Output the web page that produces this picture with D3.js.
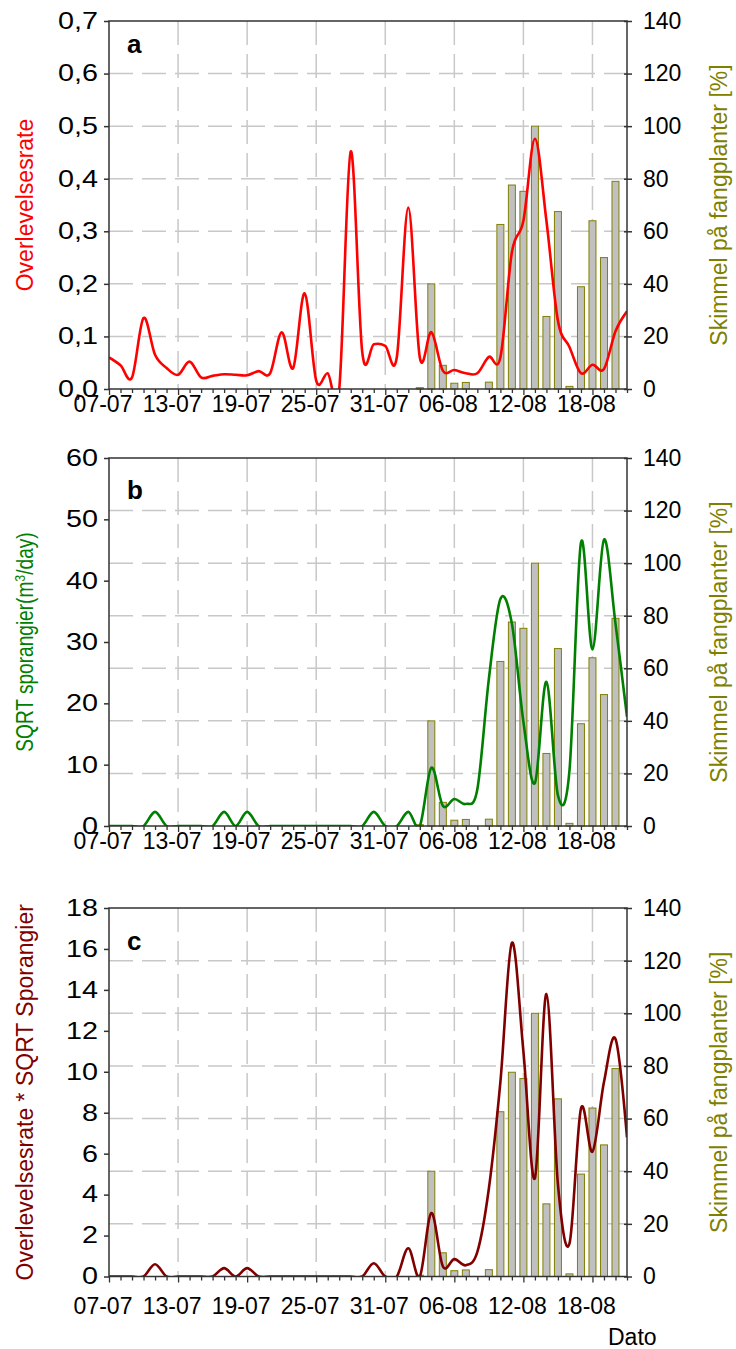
<!DOCTYPE html>
<html>
<head>
<meta charset="utf-8">
<script src="https://cdn.jsdelivr.net/npm/d3@7/dist/d3.min.js"></script>
<style>
  body { margin: 0; background: #fff; }
  svg { display: block; }
  text { font-family: "Liberation Sans", Arial, sans-serif; }
</style>
</head>
<body>
<svg id="chart" width="736" height="1349"></svg>
<script>
// Daily observations, 7 July – 21 August
const dates = [
  "07-07","08-07","09-07","10-07","11-07","12-07","13-07","14-07","15-07","16-07",
  "17-07","18-07","19-07","20-07","21-07","22-07","23-07","24-07","25-07","26-07",
  "27-07","28-07","29-07","30-07","31-07","01-08","02-08","03-08","04-08","05-08",
  "06-08","07-08","08-08","09-08","10-08","11-08","12-08","13-08","14-08","15-08",
  "16-08","17-08","18-08","19-08","20-08","21-08"
];

// Survival rate (panel a)
const overlevelse = [
  0.06, 0.045, 0.022, 0.135, 0.065, 0.04, 0.027, 0.052, 0.022, 0.025,
  0.028, 0.027, 0.026, 0.034, 0.03, 0.108, 0.04, 0.182, 0.016, 0.03,
  0.0, 0.452, 0.07, 0.085, 0.082, 0.06, 0.345, 0.06, 0.108, 0.035,
  0.036, 0.03, 0.03, 0.061, 0.06, 0.26, 0.32, 0.476, 0.32, 0.13,
  0.08, 0.03, 0.046, 0.038, 0.11, 0.148
];

// Square root of sporangia count (panel b)
const sporangier = [
  0, 0, 0, 0, 2.3, 0, 0, 0, 0, 0,
  2.3, 0, 2.3, 0, 0, 0, 0, 0, 0, 0,
  0, 0, 0, 2.3, 0, 0, 2.3, 0, 9.5, 3.3,
  4.4, 3.6, 6, 24, 37, 33, 17, 7, 23.5, 5,
  9, 46.2, 28.8, 46.7, 33, 17.8
];

// Survival rate * SQRT sporangia (panel c)
const produkt = [
  0, 0, 0, 0, 0.6, 0, 0, 0, 0, 0,
  0.41, 0, 0.41, 0, 0, 0, 0, 0, 0, 0,
  0, 0, 0, 0.65, 0, 0, 1.38, 0, 3.1, 0.5,
  0.85, 0.55, 1.2, 4.3, 9.5, 16.3, 11, 4.8, 13.8, 4.5,
  1.6, 8.2, 6.1, 9.5, 11.6, 6.8
];

// Blight on trap plants [%] (bars, right axis)
const skimmel = [
  null, null, null, null, null, null, null, null, null, null,
  null, null, null, null, null, null, null, null, null, null,
  null, null, null, null, null, null, null, 0.5, 40, 9,
  2.2, 2.5, null, 2.6, 62.6, 77.6, 75.2, 100, 27.6, 67.5,
  1, 38.9, 64, 50, 79, null
];

const dateTicks = ["07-07","13-07","19-07","25-07","31-07","06-08","12-08","18-08"];
const rightTicks = [0, 20, 40, 60, 80, 100, 120, 140];
const ticksA = [0, 0.1, 0.2, 0.3, 0.4, 0.5, 0.6, 0.7];
const ticksB = [0, 10, 20, 30, 40, 50, 60];
const ticksC = [0, 2, 4, 6, 8, 10, 12, 14, 16, 18];

const svg = d3.select("#chart");
const left = 109, right = 627;
const x = d3.scalePoint().domain(dates).range([left, right]);

const commaFmt = d3.formatLocale({decimal: ",", thousands: ".", grouping: [3], currency: ["", ""]}).format(".1f");

const panels = [
  { id: "a", values: overlevelse, color: "#ff0000", ticks: ticksA, fmt: commaFmt,
    top: 21, bottom: 389, letterY: 53, labelGap: 23, titleScale: 1,
    title: [{t: "Overlevelsesrate"}] },
  { id: "b", values: sporangier, color: "#008000", ticks: ticksB, fmt: d3.format("d"),
    top: 458, bottom: 826, letterY: 499, labelGap: 23, titleScale: 0.83,
    title: [{t: "SQRT sporangier(m"}, {t: "3", sup: true}, {t: "/day)"}] },
  { id: "c", values: produkt, color: "#800000", ticks: ticksC, fmt: d3.format("d"),
    top: 908, bottom: 1276.5, letterY: 950, labelGap: 37, titleScale: 1,
    title: [{t: "Overlevelsesrate * SQRT Sporangier"}] }
];

const gridColor = "#c8c8c8";
const axisColor = "#333";

panels.forEach(p => {
  const g = svg.append("g");
  const yL = d3.scaleLinear().domain([0, d3.max(p.ticks)]).range([p.bottom, p.top]);
  const yR = d3.scaleLinear().domain([0, 140]).range([p.bottom, p.top]);
  const mid = (p.top + p.bottom) / 2;

  // horizontal gridlines follow the right-hand axis
  g.selectAll(".hgrid").data(rightTicks.slice(1, -1)).join("line")
    .attr("x1", left).attr("x2", right)
    .attr("y1", d => yR(d)).attr("y2", d => yR(d))
    .attr("stroke", gridColor).attr("stroke-width", 1.5)
    .attr("stroke-dasharray", "24,9");

  // vertical gridlines at the labelled dates
  g.selectAll(".vgrid").data(dateTicks.slice(1)).join("line")
    .attr("x1", d => x(d)).attr("x2", d => x(d))
    .attr("y1", p.top).attr("y2", p.bottom)
    .attr("stroke", gridColor).attr("stroke-width", 1.5)
    .attr("stroke-dasharray", "24,9");

  // bars
  const barData = dates.map((d, i) => ({d, v: skimmel[i]})).filter(o => o.v != null);
  g.selectAll(".bar").data(barData).join("rect")
    .attr("x", o => x(o.d) - 3.5).attr("width", 7)
    .attr("y", o => yR(o.v)).attr("height", o => yR(0) - yR(o.v))
    .attr("fill", "#c0c0c0").attr("stroke", "#808000").attr("stroke-width", 1);

  // smoothed line, clipped to the plot area
  const clipId = "clip-" + p.id;
  svg.append("clipPath").attr("id", clipId).append("rect")
    .attr("x", left).attr("y", p.top).attr("width", right - left).attr("height", p.bottom - p.top);
  const line = d3.line()
    .x((v, i) => x(dates[i]))
    .y(v => yL(v))
    .curve(d3.curveCardinal.tension(0));
  g.append("path").datum(p.values)
    .attr("clip-path", `url(#${clipId})`)
    .attr("d", line)
    .attr("fill", "none").attr("stroke", p.color).attr("stroke-width", 2.6)
    .attr("stroke-linejoin", "round");

  // plot frame
  g.append("rect").attr("x", left).attr("y", p.top)
    .attr("width", right - left).attr("height", p.bottom - p.top)
    .attr("fill", "none").attr("stroke", axisColor).attr("stroke-width", 1.5);

  // left axis (labels drawn slightly wide)
  const leftAxis = d3.axisLeft(yL).tickValues(p.ticks).tickFormat(p.fmt).tickSize(5).tickPadding(6);
  const la = g.append("g").attr("transform", `translate(${left},0)`).call(leftAxis);
  la.select(".domain").remove();
  la.selectAll(".tick line").attr("stroke", axisColor).attr("stroke-width", 1.5);
  la.selectAll(".tick text").attr("font-size", 23).attr("fill", "#000")
    .attr("font-family", "Liberation Sans, Arial, sans-serif")
    .attr("x", 0).attr("transform", "translate(-11,0) scale(1.25,1)");

  // right axis
  const rightAxis = d3.axisRight(yR).tickValues(rightTicks).tickSize(5).tickPadding(11);
  const ra = g.append("g").attr("transform", `translate(${right},0)`).call(rightAxis);
  ra.select(".domain").remove();
  ra.selectAll(".tick line").attr("x1", -3).attr("stroke", axisColor).attr("stroke-width", 1.5);
  ra.selectAll(".tick text").attr("font-size", 23).attr("fill", "#000")
    .attr("font-family", "Liberation Sans, Arial, sans-serif");

  // bottom axis: a tick per day, longer ticks at the labelled dates
  const bottomAxis = d3.axisBottom(x).tickValues(dates)
    .tickSize(4).tickFormat(d => dateTicks.includes(d) ? d : "");
  const ba = g.append("g").attr("transform", `translate(0,${p.bottom})`).call(bottomAxis);
  ba.select(".domain").remove();
  ba.selectAll(".tick line").attr("stroke", axisColor).attr("stroke-width", 1.3)
    .attr("y2", d => dateTicks.includes(d) ? 6 : 4);
  ba.selectAll(".tick text")
    .attr("font-size", 23).attr("fill", "#000")
    .attr("font-family", "Liberation Sans, Arial, sans-serif")
    .attr("x", -6.5).attr("y", p.labelGap).attr("dy", 0);

  // panel letter
  g.append("text").attr("x", 127).attr("y", p.letterY)
    .attr("font-size", 26).attr("font-weight", "bold").attr("fill", "#000").text(p.id);

  // left axis title
  const lt = g.append("text")
    .attr("transform", `translate(33,${mid}) rotate(-90) scale(${p.titleScale},1)`)
    .attr("text-anchor", "middle").attr("font-size", 23).attr("fill", p.color);
  p.title.forEach(s => {
    const ts = lt.append("tspan").text(s.t);
    if (s.sup) ts.attr("font-size", 15).attr("baseline-shift", "super");
  });

  // right axis title
  g.append("text")
    .attr("transform", `translate(727,${mid}) rotate(-90)`)
    .attr("text-anchor", "middle").attr("font-size", 23).attr("fill", "#808000")
    .text("Skimmel på fangplanter [%]");
});

svg.append("text").attr("x", 608).attr("y", 1345)
  .attr("font-size", 23).attr("fill", "#000").text("Dato");
</script>
</body>
</html>
